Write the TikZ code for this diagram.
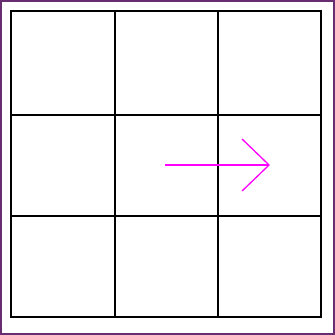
\documentclass[tikz,border=0pt]{standalone}
\usetikzlibrary{arrows.meta}
\definecolor{framepurple}{RGB}{104,44,112}
\definecolor{arrowmag}{RGB}{255,0,255}
\tikzset{
  gridline/.style={draw=black, line width=2pt, line cap=rect},
  framebox/.style={draw=framepurple, line width=2.2pt},
  movearrow/.style={draw=arrowmag, line width=1.3pt, -{Straight Barb[length=27pt,width=52pt,line width=1.3pt]}}
}
\begin{document}
\begin{tikzpicture}[x=1pt,y=-1pt]
\useasboundingbox (0,0) rectangle (335,335);
\fill[white] (0,0) rectangle (335,335);
\draw[framebox] (1.1,1.1) rectangle (333.9,333.9);
% grid
\foreach \x in {11,115,218,321} \draw[gridline] (\x,11) -- (\x,317);
\foreach \y in {11,115,216,317} \draw[gridline] (11,\y) -- (321,\y);
% arrow
\coordinate (start) at (165,165);
\coordinate (tip) at (270,165);
\draw[movearrow] (start) -- (tip);
\end{tikzpicture}
\end{document}
